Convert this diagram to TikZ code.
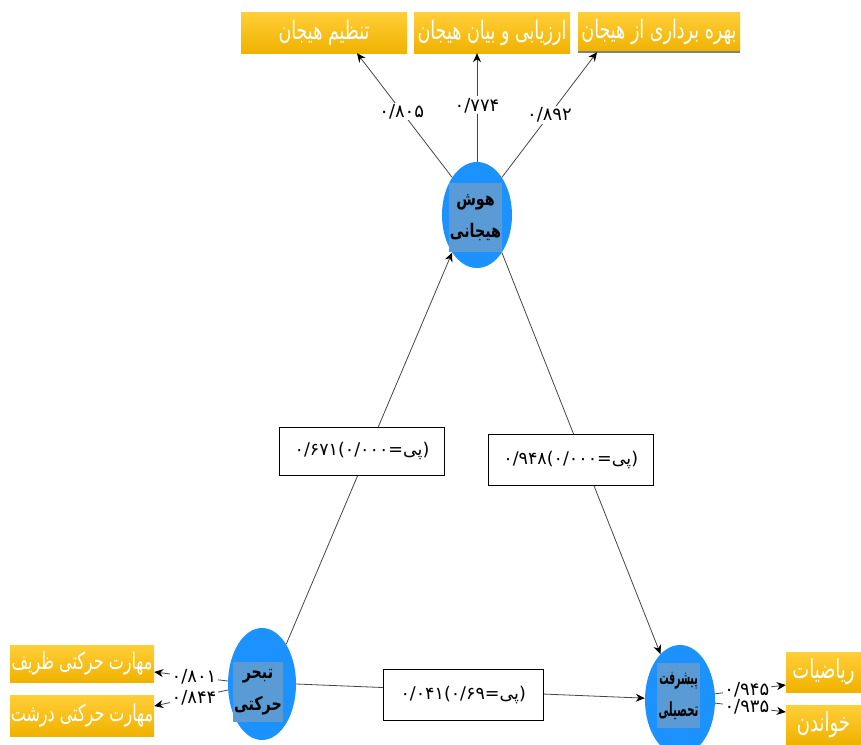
\documentclass[tikz,border=0pt]{standalone}
\usepackage{fontspec}
\usepackage{graphicx}
\usetikzlibrary{shapes.geometric,arrows.meta}
\newfontfamily\ar[Script=Arabic]{DejaVu Sans}
\newfontfamily\lat{DejaVu Sans}
\TeXXeTstate=1
\definecolor{ellblue}{RGB}{28,146,255}
\definecolor{innblue}{RGB}{91,155,213}
\definecolor{goldtop}{RGB}{255,206,56}
\definecolor{goldbot}{RGB}{240,178,0}
\definecolor{linegray}{RGB}{70,70,70}
\newcommand\boxtxt[1]{\scalebox{1}[1.45]{\beginR #1\endR}}
\newcommand\plabel[2]{\hbox{\ar #1}\hbox{\lat(}\hbox{\ar #2}\hbox{\lat=}\hbox{\ar پی}\hbox{\lat)}}
\tikzset{
 goldbox/.style={rectangle, inner sep=0pt, top color=goldtop, bottom color=goldbot, draw=none, text=white, font=\ar\fontsize{17.5}{20}\selectfont},
 latent/.style={ellipse, inner sep=0pt, fill=ellblue, draw=none},
 innerbox/.style={rectangle, inner sep=0pt, fill=innblue, align=center, font=\ar\bfseries\fontsize{15}{32}\selectfont},
 conn/.style={draw=linegray, line width=0.8pt, -{Stealth[length=9pt,width=8pt,color=black]}},
 coef/.style={fill=white, inner sep=1.5pt, font=\ar\fontsize{18}{20}\selectfont},
 pbox/.style={draw=black, line width=1pt, fill=white, inner sep=0pt, font=\ar\fontsize{17.5}{20}\selectfont},
}
\begin{document}
\begin{tikzpicture}[x=1pt,y=-1pt]
\useasboundingbox[fill=white] (0,0) rectangle (861,744);
% indicator boxes
\node[goldbox, minimum width=166pt, minimum height=41pt] (b1) at (324,32.5) {\boxtxt{تنظیم هیجان}};
\node[goldbox, minimum width=156pt, minimum height=41pt] (b2) at (492,32.5) {\boxtxt{ارزیابی و بیان هیجان}};
\node[goldbox, minimum width=162pt, minimum height=40pt] (b3) at (659,32) {\boxtxt{بهره برداری از هیجان}};
\draw[gray, line width=2pt] (b3.south west) -- (b3.south east);
\node[goldbox, font=\ar\fontsize{16}{20}\selectfont, minimum width=144pt, minimum height=37pt] (bl1) at (82,663.5) {\boxtxt{مهارت حرکتی ظریف}};
\node[goldbox, font=\ar\fontsize{16}{20}\selectfont, minimum width=144pt, minimum height=41pt] (bl2) at (82,715.5) {\boxtxt{مهارت حرکتی درشت}};
\node[goldbox, font=\ar\fontsize{18}{20}\selectfont, minimum width=75pt, minimum height=40pt] (br1) at (823.5,672) {\boxtxt{ریاضیات}};
\node[goldbox, font=\ar\fontsize{18}{20}\selectfont, minimum width=75pt, minimum height=39pt] (br2) at (823.5,724.5) {\boxtxt{خواندن}};
% latent variables
\node[latent, minimum width=70pt, minimum height=106pt] (ehosh) at (477,215) {};
\node[innerbox, minimum width=53pt, minimum height=69pt] (thosh) at (475.5,217.5) {\scalebox{0.95}[1.25]{هوش}\\\scalebox{0.95}[1.25]{هیجانی}};
\node[latent, minimum width=68pt, minimum height=112pt] (etab) at (262,684) {};
\node[innerbox, minimum width=50pt, minimum height=60pt] (ttab) at (258,692) {\scalebox{0.95}[1.25]{تبحر}\\\scalebox{0.95}[1.25]{حرکتی}};
\node[latent, minimum width=70pt, minimum height=110pt] (epish) at (680,700) {};
\node[innerbox, minimum width=43pt, minimum height=65pt] (tpish) at (678.5,695.5) {\scalebox{0.62}[1.3]{پیشرفت}\\\scalebox{0.68}[1.3]{تحصیلی}};
% outer loadings
\draw[conn] (ehosh.north west) -- ([xshift=33pt]b1.south) node[coef,pos=0.53] {۰/۸۰۵};
\draw[conn] (ehosh.north) -- ([xshift=-15pt]b2.south) node[coef,pos=0.52] {۰/۷۷۴};
\draw[conn] (ehosh.north east) -- ([xshift=-62pt]b3.south) node[coef,pos=0.5] {۰/۸۹۲};
\draw[conn] (etab.175) -- ([yshift=-8.5pt]bl1.east) node[coef,pos=0.46] {۰/۸۰۱};
\draw[conn] (etab.190) -- ([yshift=9.5pt]bl2.east) node[coef,pos=0.46] {۰/۸۴۴};
\draw[conn] (epish.10) -- ([yshift=-13pt]br1.west) node[coef,pos=0.45] {۰/۹۴۵};
\draw[conn] (epish.-5) -- ([yshift=12.5pt]br2.west) node[coef,pos=0.45] {۰/۹۳۵};
% paths
\draw[conn] (etab.north east) -- (ehosh.south west) node[pbox, pos=0.493, xshift=-6pt, minimum width=165pt, minimum height=48pt] (p1) {\plabel{۰/۶۷۱}{۰/۰۰۰}};
\draw[conn] (ehosh.south east) -- (epish.113) node[pbox, pos=0.516, xshift=-13pt, minimum width=165pt, minimum height=51pt] (p2) {\plabel{۰/۹۴۸}{۰/۰۰۰}};
\draw[conn] (etab.east) -- (epish.177) node[pbox, pos=0.479, yshift=-4.5pt, minimum width=160pt, minimum height=51pt] (p3) {\plabel{۰/۰۴۱}{۰/۶۹}};
\end{tikzpicture}
\end{document}
